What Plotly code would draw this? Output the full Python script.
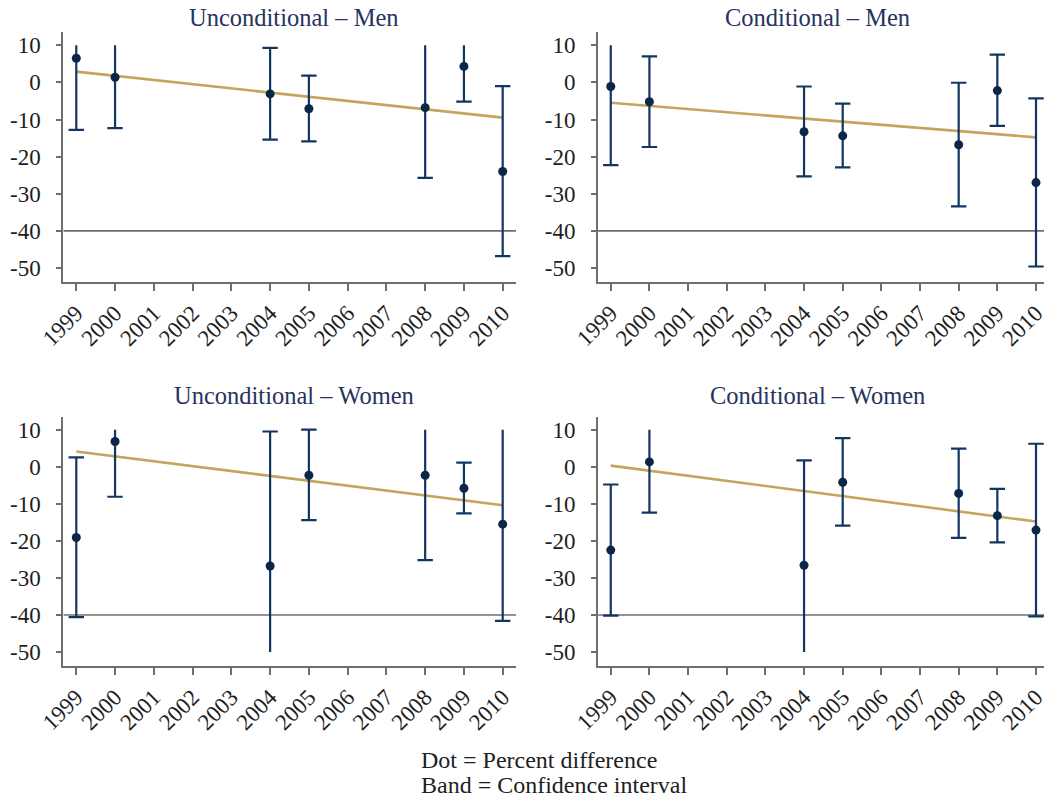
import plotly.graph_objects as go

# ---------------- data ----------------
years = [1999, 2000, 2004, 2005, 2008, 2009, 2010]
x_tick_years = list(range(1999, 2011))
y_tick_vals = [10, 0, -10, -20, -30, -40, -50]
y_tick_text = ["10", "0", "-10", "-20", "-30", "-40", "-50"]

panel_titles = ["Unconditional – Men", "Conditional – Men",
                "Unconditional – Women", "Conditional – Women"]

# point estimates (percent difference)
uncond_men_est = [6.5, 1.4, -3.1, -7.1, -6.8, 4.3, -24.0]
cond_men_est = [-1.1, -5.2, -13.3, -14.4, -16.8, -2.2, -27.0]
uncond_women_est = [-19.1, 6.8, -26.8, -2.3, -2.3, -5.8, -15.5]
cond_women_est = [-22.5, 1.3, -26.6, -4.2, -7.2, -13.2, -17.1]

# confidence interval bounds (None = beyond the plotted scale)
uncond_men_hi = [None, None, 9.3, 1.8, None, None, -1.0]
uncond_men_lo = [-12.8, -12.3, -15.4, -15.9, -25.7, -5.2, -46.8]
cond_men_hi = [None, 7.0, -1.1, -5.7, -0.1, 7.5, -4.3]
cond_men_lo = [-22.3, -17.4, -25.3, -22.9, -33.4, -11.7, -49.6]
uncond_women_hi = [2.5, None, 9.5, 10.0, None, 1.1, None]
uncond_women_lo = [-40.6, -8.1, None, -14.4, -25.2, -12.6, -41.6]
cond_women_hi = [-4.8, None, 1.7, 7.7, 4.9, -6.0, 6.2]
cond_women_lo = [-40.2, -12.4, None, -15.9, -19.2, -20.4, -40.4]

# fitted trend line values at first and last year
trend_years = [1999, 2010]
uncond_men_trend = [2.9, -9.5]
cond_men_trend = [-5.5, -14.8]
uncond_women_trend = [4.1, -10.4]
cond_women_trend = [0.3, -14.8]

ref_line = -40
scale_top, scale_bottom = 10, -50

footer_lines = ["Dot = Percent difference", "Band = Confidence interval"]

panels = [
    (uncond_men_est, uncond_men_lo, uncond_men_hi, uncond_men_trend),
    (cond_men_est, cond_men_lo, cond_men_hi, cond_men_trend),
    (uncond_women_est, uncond_women_lo, uncond_women_hi, uncond_women_trend),
    (cond_women_est, cond_women_lo, cond_women_hi, cond_women_trend),
]

# ---------------- style ----------------
W, H = 1044, 799
FONT = "Liberation Serif"
NAVY = "#123562"
DOT = "#0b2748"
GOLD = "#c6a45e"
AXIS = "#6f6f6f"
TITLE = "#26335e"
TXT = "#1e1e1e"

# pixel geometry of panels: (left, right, top, bottom), x range, title centre x, title y
geo = [
    (63.3, 516.0, 32.3, 281.7, [1998.665, 2010.343], 294, 17),
    (598.0, 1044.0, 32.3, 281.7, [1998.67, 2010.207], 817, 17),
    (63.3, 516.0, 416.7, 665.7, [1998.665, 2010.343], 294, 396),
    (598.0, 1044.0, 416.7, 665.7, [1998.67, 2010.207], 817, 396),
]
yrange = [-53.7, 13.5]

fig = go.Figure()
annotations = []

for i, ((est, lo, hi, trend), (l, r, t, b, xr, tcx, tcy)) in enumerate(zip(panels, geo)):
    xa = "x" if i == 0 else f"x{i+1}"
    ya = "y" if i == 0 else f"y{i+1}"
    xkey = "xaxis" if i == 0 else f"xaxis{i+1}"
    ykey = "yaxis" if i == 0 else f"yaxis{i+1}"

    # reference line
    fig.add_trace(go.Scatter(x=[xr[0], xr[1]], y=[ref_line, ref_line], mode="lines",
                             line=dict(color=AXIS, width=1.6), xaxis=xa, yaxis=ya,
                             showlegend=False, hoverinfo="skip"))

    # trend line
    fig.add_trace(go.Scatter(x=trend_years, y=trend, mode="lines",
                             line=dict(color=GOLD, width=2.6), xaxis=xa, yaxis=ya,
                             showlegend=False))

    # CI bands (vertical segments)
    bx, by = [], []
    cap_x, cap_y = [], []
    for yr, lv, hv in zip(years, lo, hi):
        lv2 = scale_bottom if lv is None else lv
        hv2 = scale_top if hv is None else hv
        bx += [yr, yr, None]
        by += [lv2, hv2, None]
        if lv is not None:
            cap_x.append(yr); cap_y.append(lv)
        if hv is not None:
            cap_x.append(yr); cap_y.append(hv)
    fig.add_trace(go.Scatter(x=bx, y=by, mode="lines", line=dict(color=NAVY, width=2.2),
                             xaxis=xa, yaxis=ya, showlegend=False))
    fig.add_trace(go.Scatter(x=cap_x, y=cap_y, mode="markers",
                             marker=dict(symbol="line-ew", size=11,
                                         line=dict(color=NAVY, width=2.2)),
                             xaxis=xa, yaxis=ya, showlegend=False, cliponaxis=True))

    # point estimates
    fig.add_trace(go.Scatter(x=years, y=est, mode="markers",
                             marker=dict(color=DOT, size=9),
                             xaxis=xa, yaxis=ya, showlegend=False))

    fig.update_layout(**{
        xkey: dict(domain=[l / W, r / W], range=xr, anchor=ya, automargin=False,
                   tickvals=x_tick_years, ticktext=[str(v) for v in x_tick_years],
                   tickangle=-45, showline=True, linecolor=AXIS, linewidth=2,
                   ticks="outside", ticklen=7, tickwidth=1.5, tickcolor=AXIS,
                   ticklabeloverflow="allow",
                   showgrid=False, zeroline=False,
                   tickfont=dict(family=FONT, size=23, color=TXT)),
        ykey: dict(domain=[1 - b / H, 1 - t / H], range=yrange, anchor=xa, automargin=False,
                   tickvals=y_tick_vals, ticktext=y_tick_text,
                   showline=True, linecolor=AXIS, linewidth=2,
                   ticks="outside", ticklen=5, tickwidth=1.5, tickcolor=AXIS,
                   ticklabelstandoff=11,
                   showgrid=False, zeroline=False,
                   tickfont=dict(family=FONT, size=23, color=TXT)),
    })

    annotations.append(dict(text=panel_titles[i], x=tcx / W,
                            y=1 - tcy / H, xref="paper", yref="paper",
                            xanchor="center", yanchor="middle", showarrow=False,
                            font=dict(family=FONT, size=24.5, color=TITLE)))

annotations.append(dict(text=footer_lines[0], x=419 / W, y=1 - 760 / H, xref="paper",
                        yref="paper", xanchor="left", yanchor="middle", showarrow=False,
                        font=dict(family=FONT, size=24, color=TXT)))
annotations.append(dict(text=footer_lines[1], x=419 / W, y=1 - 785 / H, xref="paper",
                        yref="paper", xanchor="left", yanchor="middle", showarrow=False,
                        font=dict(family=FONT, size=24, color=TXT)))

fig.update_layout(width=W, height=H, margin=dict(l=0, r=0, t=0, b=0),
                  paper_bgcolor="white", plot_bgcolor="white",
                  annotations=annotations, showlegend=False)

fig.write_html("out.html", config={"displayModeBar": False},
               post_script="document.body.style.margin='0';document.body.style.padding='0';")
